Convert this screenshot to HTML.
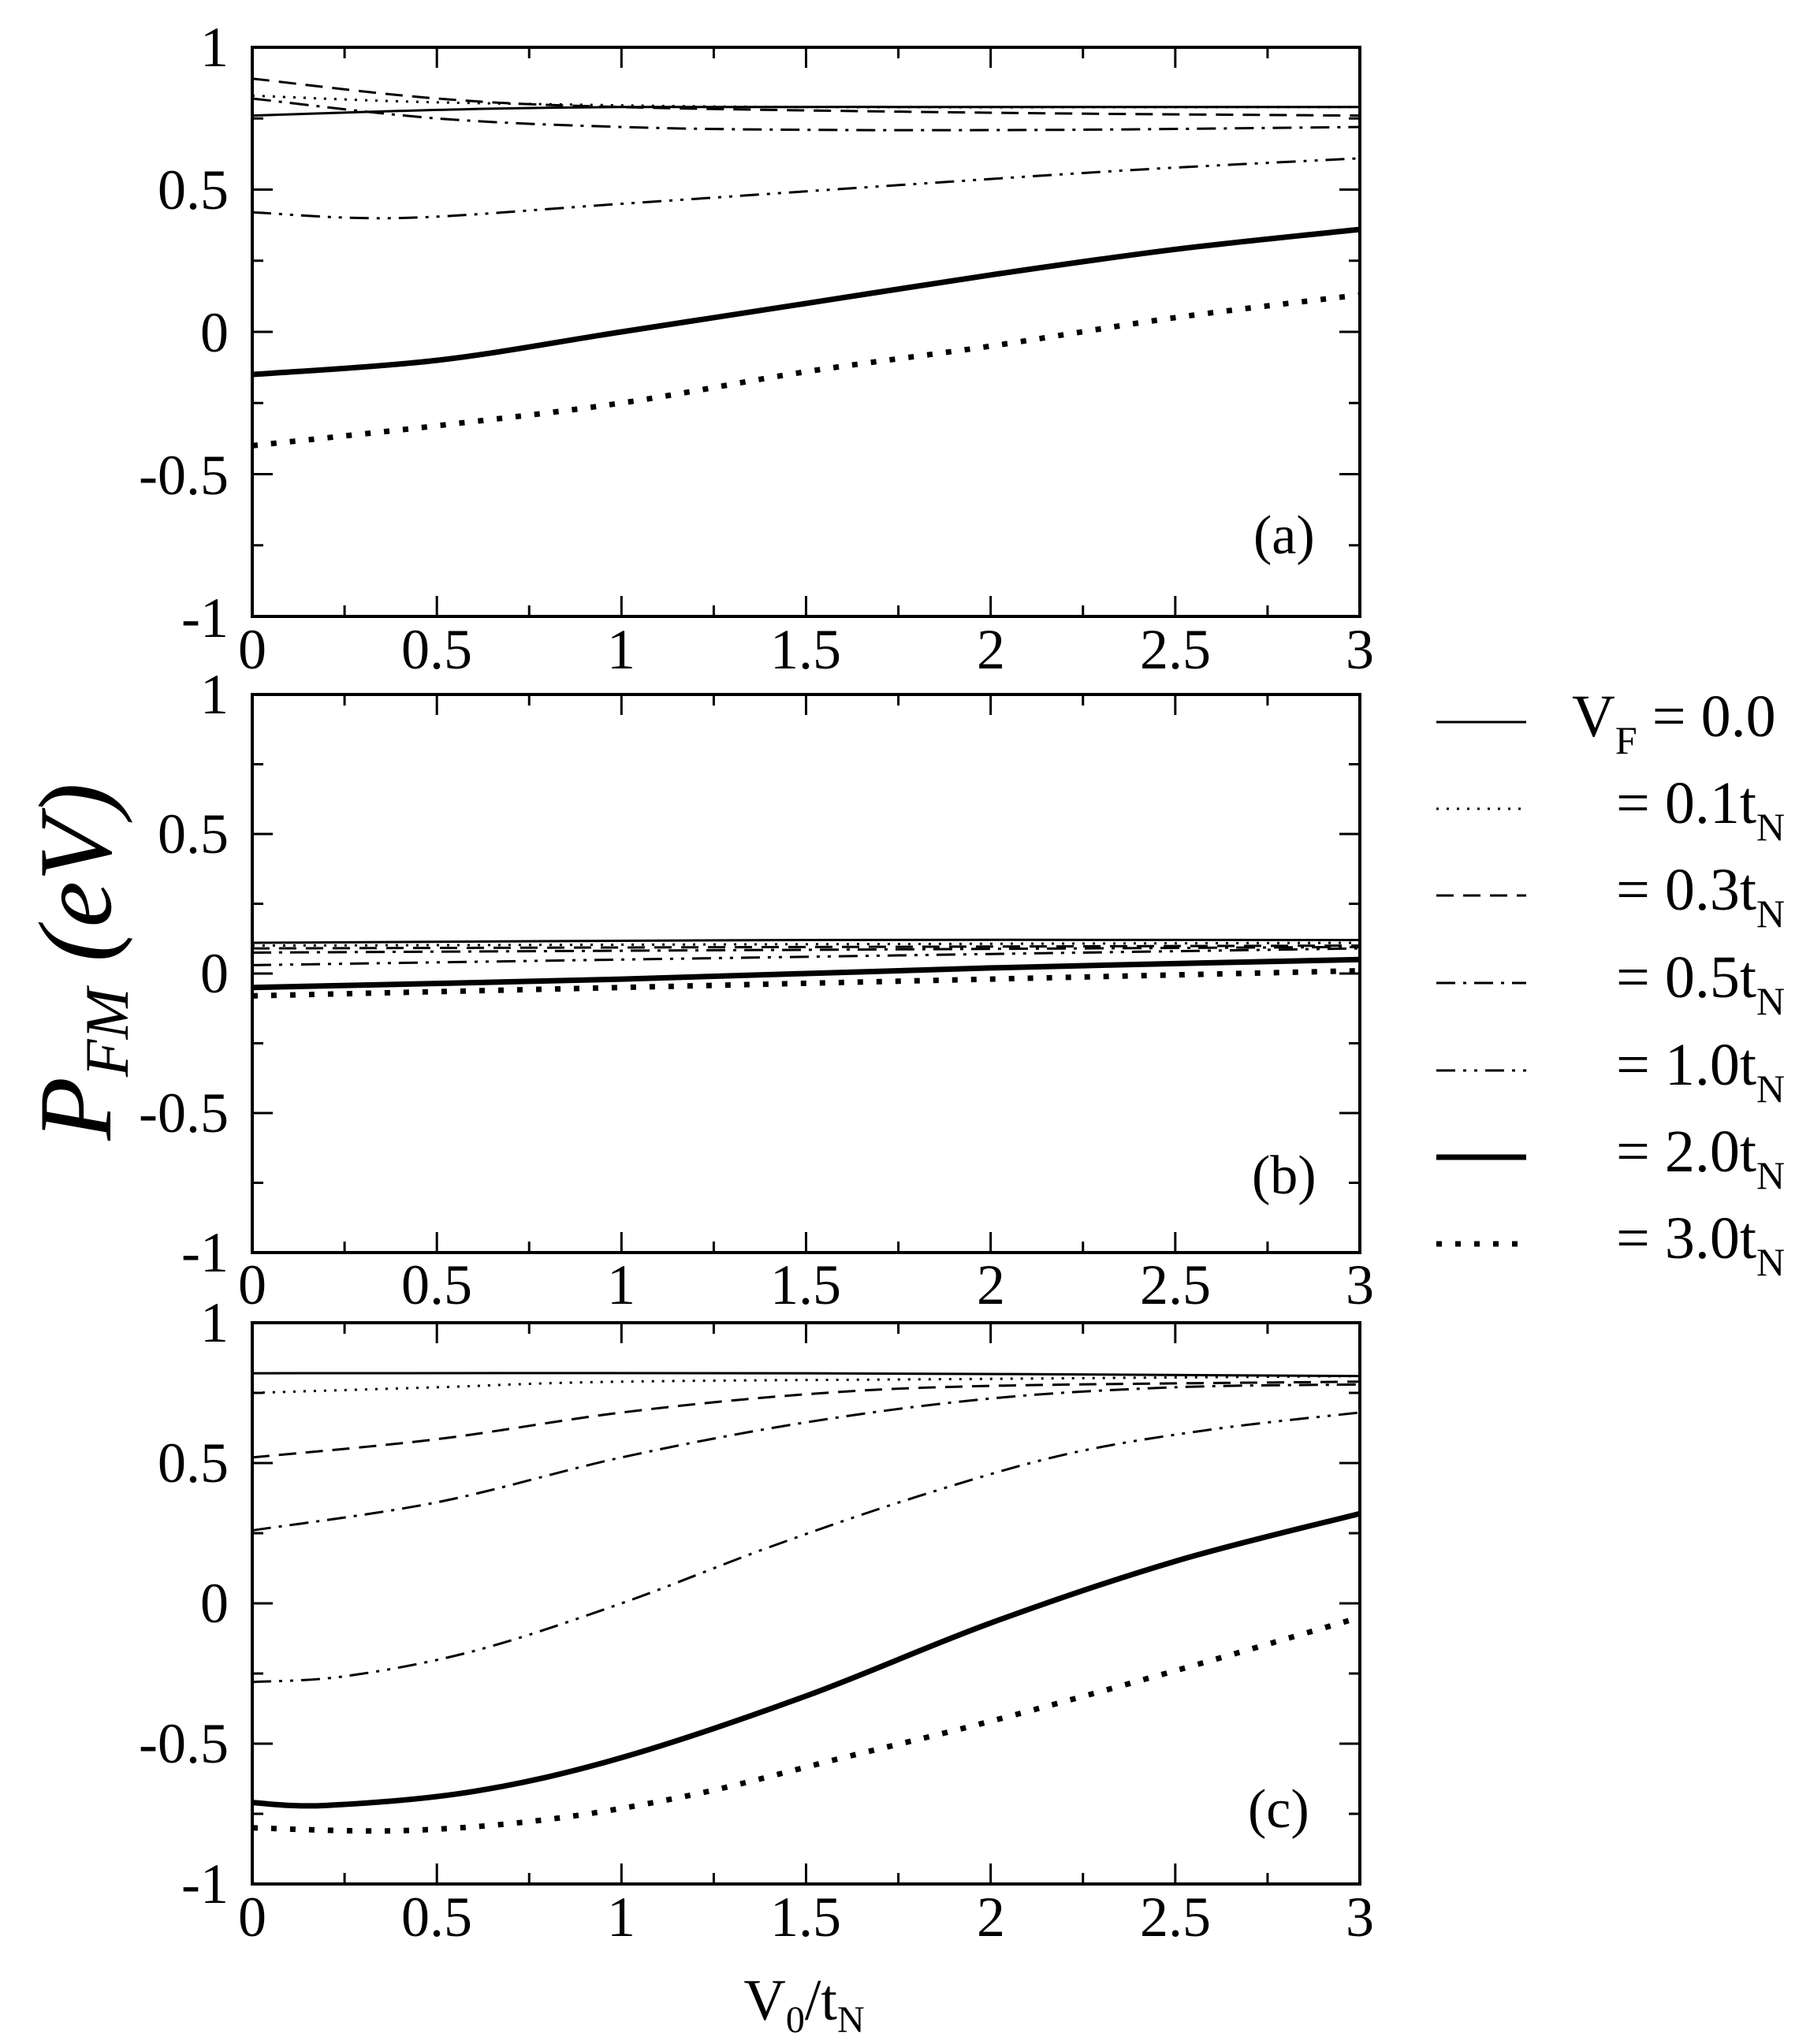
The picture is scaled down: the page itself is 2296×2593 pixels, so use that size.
<!DOCTYPE html>
<html><head><meta charset="utf-8"><style>
html,body{margin:0;padding:0;background:#fff;}
svg{display:block;}
text{font-family:"Liberation Serif",serif;fill:#000;}
</style></head><body>
<svg id="s" width="2296" height="2593" viewBox="0 0 2296 2593" xmlns="http://www.w3.org/2000/svg">
<g font-size="72" text-anchor="end">
<text x="290" y="84">1</text><text x="290" y="265">0.5</text><text x="290" y="446">0</text><text x="290" y="627">-0.5</text><text x="290" y="808">-1</text>
<text x="290" y="905">1</text><text x="290" y="1082">0.5</text><text x="290" y="1259">0</text><text x="290" y="1436">-0.5</text><text x="290" y="1613">-1</text>
<text x="290" y="1702">1</text><text x="290" y="1880">0.5</text><text x="290" y="2058">0</text><text x="290" y="2236">-0.5</text><text x="290" y="2414">-1</text>
</g>
<g font-size="72" text-anchor="middle">
<text x="320" y="848">0</text><text x="554" y="848">0.5</text><text x="788" y="848">1</text><text x="1022" y="848">1.5</text><text x="1257" y="848">2</text><text x="1491" y="848">2.5</text><text x="1725" y="848">3</text>
<text x="320" y="1654">0</text><text x="554" y="1654">0.5</text><text x="788" y="1654">1</text><text x="1022" y="1654">1.5</text><text x="1257" y="1654">2</text><text x="1491" y="1654">2.5</text><text x="1725" y="1654">3</text>
<text x="320" y="2456">0</text><text x="554" y="2456">0.5</text><text x="788" y="2456">1</text><text x="1022" y="2456">1.5</text><text x="1257" y="2456">2</text><text x="1491" y="2456">2.5</text><text x="1725" y="2456">3</text>
</g>
<g font-size="70">
<text x="1590" y="702">(a)</text>
<text x="1588" y="1514">(b)</text>
<text x="1583" y="2318">(c)</text>
</g>
<text x="1020" y="2562" font-size="74" text-anchor="middle">V<tspan font-size="48" dy="16">0</tspan><tspan dy="-16">/t</tspan><tspan font-size="48" dy="16">N</tspan></text>
<text transform="translate(140,1220) rotate(-90)" font-size="132" font-style="italic" text-anchor="middle">P<tspan font-size="78" dy="22">FM</tspan><tspan dy="-22"> (eV)</tspan></text>
<g font-size="76">
<text x="1994" y="934">V<tspan font-size="50" dy="22">F</tspan><tspan dy="-22"> = 0.0</tspan></text>
<text x="2050" y="1044">= 0.1t<tspan font-size="50" dy="22">N</tspan></text>
<text x="2050" y="1154">= 0.3t<tspan font-size="50" dy="22">N</tspan></text>
<text x="2050" y="1265">= 0.5t<tspan font-size="50" dy="22">N</tspan></text>
<text x="2050" y="1376">= 1.0t<tspan font-size="50" dy="22">N</tspan></text>
<text x="2050" y="1486">= 2.0t<tspan font-size="50" dy="22">N</tspan></text>
<text x="2050" y="1596">= 3.0t<tspan font-size="50" dy="22">N</tspan></text>
</g>
<g id="g"></g>
</svg>
<script>
var NS="http://www.w3.org/2000/svg",g=document.getElementById("g");
function el(t,a){var e=document.createElementNS(NS,t);for(var k in a)e.setAttribute(k,a[k]);g.appendChild(e);return e;}
var L=320,R=1725;
var panels=[[60,782],[881,1589],[1678,2390]];
var styles=[
 {w:3,d:"none"},{w:3,d:"3,10"},{w:3,d:"22,12"},{w:3,d:"24,10,4,10"},{w:3,d:"24,10,4,10,4,10"},{w:7,d:"none"},{w:7,d:"7,17"}];
var data=[
[
 [[0,.76],[.5,.78],[1,.79],[2,.79],[3,.79]],
 [[0,.83],[.4,.81],[.8,.80],[1.5,.79],[3,.79]],
 [[0,.89],[.5,.82],[1,.79],[2,.77],[3,.76]],
 [[0,.82],[.5,.75],[1,.72],[1.5,.71],[2.2,.71],[3,.72]],
 [[0,.42],[.4,.40],[1,.45],[1.8,.52],[2.4,.57],[3,.61]],
 [[0,-.15],[.5,-.10],[1,0],[1.5,.1],[2,.2],[2.5,.29],[3,.36]],
 [[0,-.40],[.5,-.33],[1,-.25],[1.5,-.14],[2,-.05],[2.5,.05],[3,.13]]
],[
 [[0,.11],[1.5,.12],[3,.12]],
 [[0,.10],[1.5,.105],[3,.11]],
 [[0,.09],[1.5,.095],[3,.10]],
 [[0,.075],[1.5,.085],[3,.095]],
 [[0,.03],[1,.05],[2,.07],[3,.09]],
 [[0,-.05],[1,-.02],[2,.02],[3,.05]],
 [[0,-.08],[1,-.05],[2,-.02],[3,.01]]
],[
 [[0,.82],[1.5,.82],[3,.81]],
 [[0,.75],[.5,.77],[1,.79],[2,.80],[3,.81]],
 [[0,.52],[.5,.585],[1,.68],[1.5,.745],[2,.775],[3,.79]],
 [[0,.26],[.5,.36],[1,.52],[1.5,.645],[2,.73],[2.5,.77],[3,.78]],
 [[0,-.28],[.25,-.26],[.6,-.17],[1,0],[1.4,.2],[1.8,.38],[2.2,.53],[2.6,.62],[3,.68]],
 [[0,-.71],[.2,-.72],[.6,-.67],[1,-.55],[1.5,-.33],[2,-.07],[2.5,.15],[3,.32]],
 [[0,-.80],[.4,-.81],[.8,-.77],[1.2,-.68],[1.6,-.55],[2,-.42],[2.5,-.24],[3,-.05]]
]];
function path(pts,T,B){
 var P=pts.map(function(p){return [L+(R-L)*p[0]/3, T+(B-T)*(1-p[1])/2];});
 var d="M"+P[0][0]+","+P[0][1];
 for(var i=0;i<P.length-1;i++){
  var p0=P[i-1]||P[i],p1=P[i],p2=P[i+1],p3=P[i+2]||P[i+1];
  var c1=[p1[0]+(p2[0]-p0[0])/6,p1[1]+(p2[1]-p0[1])/6],c2=[p2[0]-(p3[0]-p1[0])/6,p2[1]-(p3[1]-p1[1])/6];
  d+=" C"+c1+" "+c2+" "+p2;
 }
 return d;
}
panels.forEach(function(pn,i){
 var T=pn[0],B=pn[1];
 data[i].forEach(function(s,j){el("path",{d:path(s,T,B),fill:"none",stroke:"#000","stroke-width":styles[j].w,"stroke-dasharray":styles[j].d});});
 el("rect",{x:L,y:T,width:R-L,height:B-T,fill:"none",stroke:"#000","stroke-width":4});
 for(var k=0;k<=12;k++){var x=L+(R-L)*k/12,len=k%2?14:26;
  el("line",{x1:x,y1:B,x2:x,y2:B-len,stroke:"#000","stroke-width":3});
  el("line",{x1:x,y1:T,x2:x,y2:T+len,stroke:"#000","stroke-width":3});}
 for(var k=0;k<=8;k++){var y=T+(B-T)*k/8,len=k%2?14:26;
  el("line",{x1:L,y1:y,x2:L+len,y2:y,stroke:"#000","stroke-width":3});
  el("line",{x1:R,y1:y,x2:R-len,y2:y,stroke:"#000","stroke-width":3});}
});
var ly=[916,1026,1136,1247,1358,1468,1578];
ly.forEach(function(y,j){el("line",{x1:1822,y1:y,x2:1936,y2:y,stroke:"#000","stroke-width":styles[j].w,"stroke-dasharray":styles[j].d});});
</script>
</body></html>
